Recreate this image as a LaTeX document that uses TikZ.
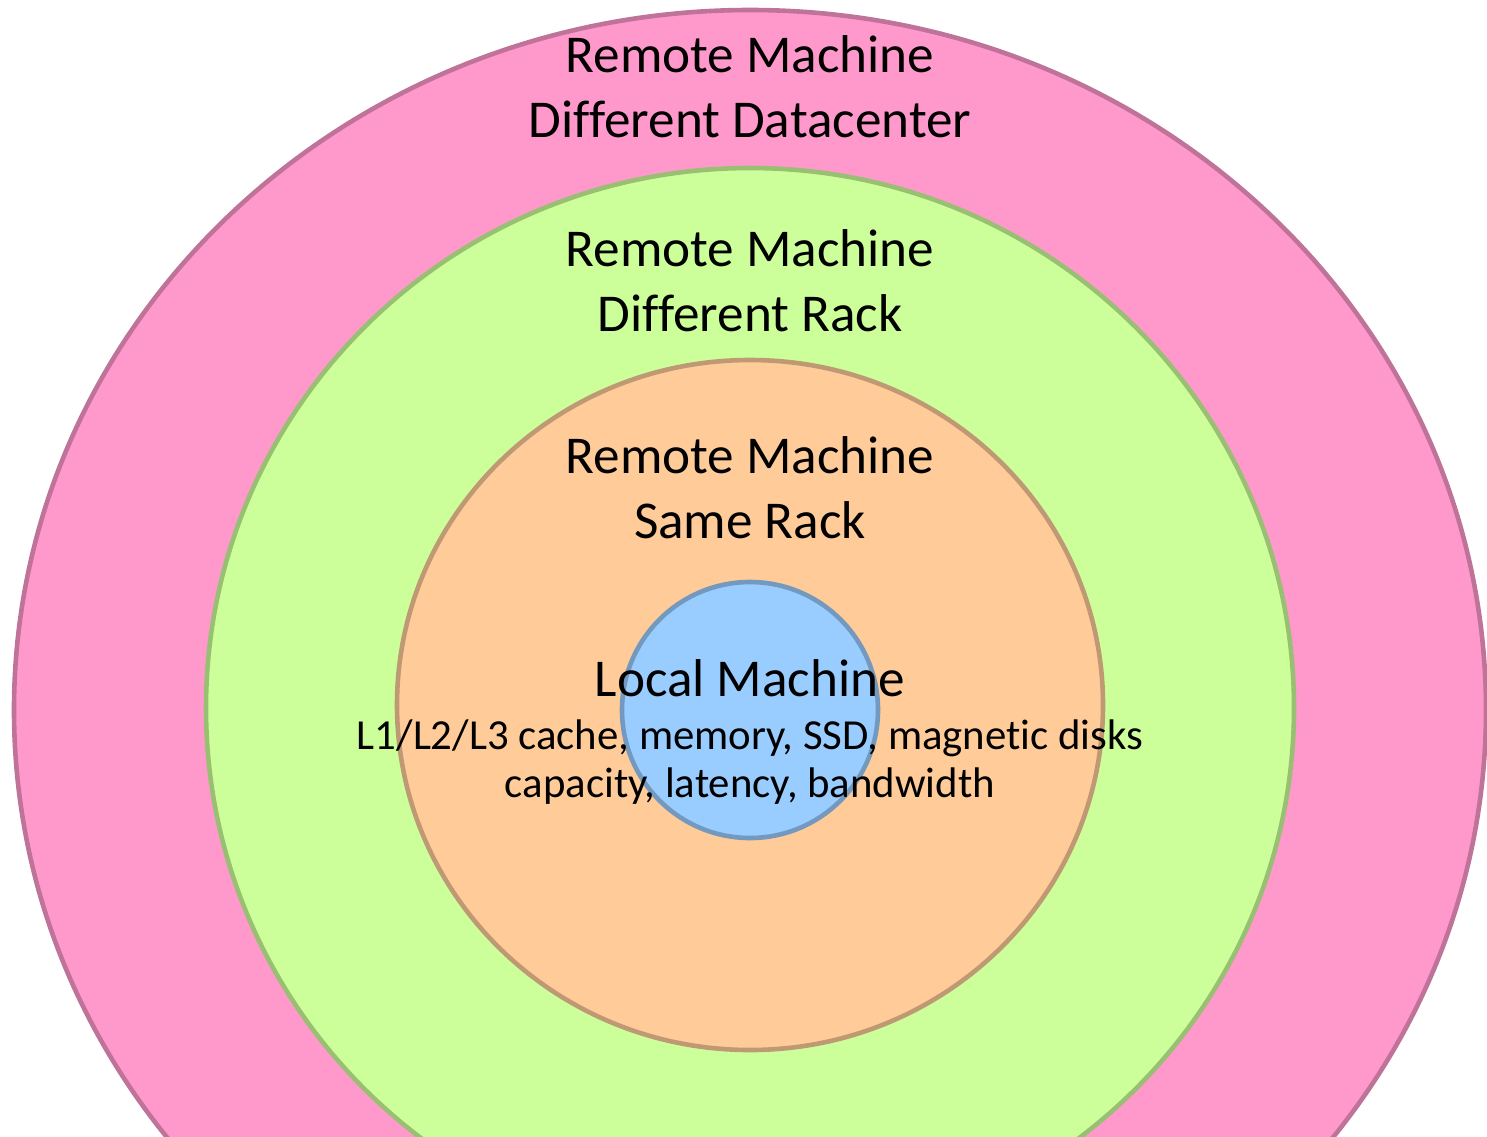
\documentclass[tikz,border=0pt]{standalone}
\usepackage{fontspec}
\setmainfont{Carlito}[Ligatures=NoCommon]
\definecolor{pinkfill}{HTML}{FF99CC}
\definecolor{pinkline}{HTML}{BF7399}
\definecolor{greenfill}{HTML}{CCFF99}
\definecolor{greenline}{HTML}{99BF73}
\definecolor{orangefill}{HTML}{FFCC99}
\definecolor{orangeline}{HTML}{BF9973}
\definecolor{bluefill}{HTML}{99CCFF}
\definecolor{blueline}{HTML}{7399BF}
\begin{document}
\begin{tikzpicture}[x=0.5pt,y=-0.5pt,
    ring/.style={line width=2.3pt},
    bigtext/.style={align=center,font=\fontsize{26.6}{32.5}\selectfont},
    smalltext/.style={align=center,font=\fontsize{21.4}{23.6}\selectfont}]
    \useasboundingbox (0,0) rectangle (1487,1136);
    \clip (0,0) rectangle (1487,1136);

    \draw[ring,fill=pinkfill,draw=pinkline] (750,710) ellipse [x radius=736,y radius=700];
    \draw[ring,fill=greenfill,draw=greenline] (750,708) ellipse [x radius=544,y radius=540];
    \draw[ring,fill=orangefill,draw=orangeline] (750,705) ellipse [x radius=353,y radius=345];
    \draw[ring,fill=bluefill,draw=blueline] (750,710) circle [radius=128];

    \node[bigtext] (datacenter) at (750,87) {Remote Machine\\Different Datacenter};
    \node[bigtext] (rack) at (750,281) {Remote Machine\\Different Rack};
    \node[bigtext] (samerack) at (750,488) {Remote Machine\\Same Rack};
    \node[bigtext] (local) at (750,678) {Local Machine};
    \node[smalltext] (storage) at (750,762) {L1/L2/L3 cache, memory, SSD, magnetic disks\\capacity, latency, bandwidth};
\end{tikzpicture}
\end{document}
